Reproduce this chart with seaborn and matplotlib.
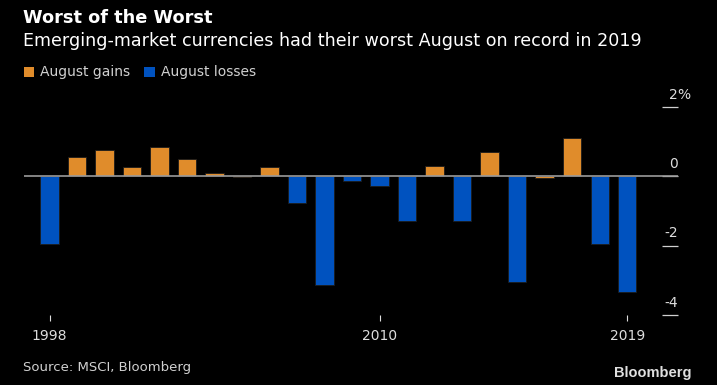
import numpy as np
import pandas as pd
import seaborn as sns
import matplotlib.pyplot as plt
from matplotlib.patches import Patch

# August returns of the MSCI EM currency index, in percent
years = [str(y) for y in range(1998, 2020)]
returns = [-1.94, 0.57, 0.76, 0.26, 0.85, 0.51, 0.11, -0.03, 0.26, -0.77, -3.15,
           -0.14, -0.29, -1.28, 0.29, -1.28, 0.70, -3.06, -0.06, 1.10, -1.94, -3.34]
kinds = ['August losses', 'August gains', 'August gains', 'August gains', 'August gains',
         'August gains', 'August gains', 'August gains', 'August gains', 'August losses',
         'August losses', 'August losses', 'August losses', 'August losses', 'August gains',
         'August losses', 'August gains', 'August losses', 'August gains', 'August gains',
         'August losses', 'August losses']
legend_labels = ['August gains', 'August losses']
year_ticks = ['1998', '2010', '2019']
y_ticks = [2, 0, -2, -4]

orange = '#e08c2b'
blue = '#0052bf'

df = pd.DataFrame({'year': years, 'ret': returns, 'kind': kinds})

# Dark Bloomberg look
sns.set_style('dark', rc={'axes.facecolor': 'black', 'figure.facecolor': 'black',
                          'axes.grid': False})
plt.rcParams['font.family'] = ['DejaVu Sans']

fig = plt.figure(figsize=(7.17, 3.85), dpi=100)
ax = fig.add_axes([0.0335, 0.182, 0.9115, 0.540])

sns.barplot(data=df, x='year', y='ret', hue='kind', hue_order=legend_labels,
            palette=[orange, blue], saturation=1, dodge=False, width=0.67, ax=ax,
            edgecolor='#1c1c1c', linewidth=0.6, legend=False)

ax.axhline(0, color='#9a9a9a', lw=1.2, zorder=1)

ax.set_ylim(-4, 2)
ax.set_xlim(-0.93, 22.83)
for s in ax.spines.values():
    s.set_visible(False)
ax.set_xlabel('')
ax.set_ylabel('')

# x ticks: only a few years
ax.set_xticks([years.index(y) for y in year_ticks])
ax.set_xticklabels(year_ticks)
ax.tick_params(axis='x', bottom=True, direction='out', length=4, width=0.8,
               color='#dddddd', labelcolor='#dddddd', labelsize=10, pad=6)

# y ticks: short lines on the right, labels sitting above them
ax.set_yticks(y_ticks)
ax.tick_params(axis='y', left=False, right=True, labelleft=False, labelright=False,
               direction='in', length=11.5, width=0.9, color='#d0d0d0')
for v in y_ticks:
    ax.annotate(str(v), xy=(1.0, v), xycoords=ax.get_yaxis_transform(),
                xytext=(0, 6), textcoords='offset points',
                ha='right', va='baseline', color='#dddddd', fontsize=10)
ax.annotate('%', xy=(1.0, y_ticks[0]), xycoords=ax.get_yaxis_transform(),
            xytext=(0, 6), textcoords='offset points',
            ha='left', va='baseline', color='#dddddd', fontsize=10)

# legend with square markers
handles = [Patch(facecolor=orange, edgecolor='none'), Patch(facecolor=blue, edgecolor='none')]
fig.legend(handles, legend_labels, loc='upper left', bbox_to_anchor=(0.033, 0.83),
           ncol=2, frameon=False, fontsize=10, labelcolor='#d0d0d0',
           handlelength=0.75, handleheight=0.75, handletextpad=0.45,
           columnspacing=1.0, borderpad=0, borderaxespad=0)

# titles and footer
fig.text(0.032, 0.941, 'Worst of the Worst', color='white', fontsize=12.8,
         fontweight='bold', va='baseline', ha='left')
fig.text(0.032, 0.881, 'Emerging-market currencies had their worst August on record in 2019',
         color='white', fontsize=12.6, va='baseline', ha='left')
fig.text(0.032, 0.036, 'Source: MSCI, Bloomberg', color='#d0d0d0', fontsize=9.5,
         va='baseline', ha='left')
fig.text(0.965, 0.022, 'Bloomberg', color='#e0e0e0', fontsize=10.5, fontweight='bold',
         family='Liberation Sans', va='baseline', ha='right')

plt.savefig('out.png', dpi=100, facecolor='black')
